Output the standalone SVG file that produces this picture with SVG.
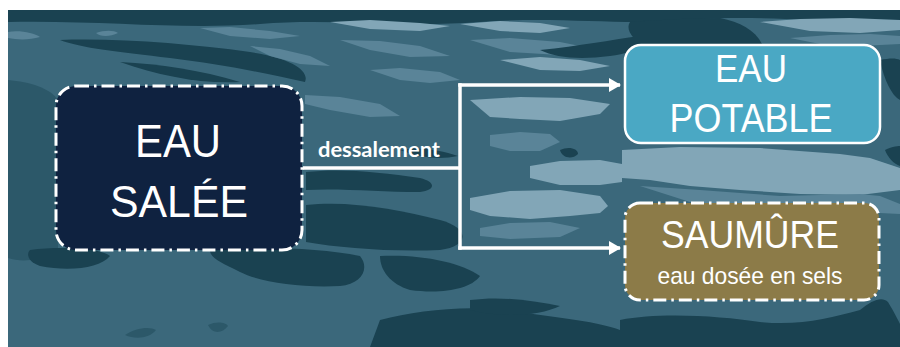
<svg xmlns="http://www.w3.org/2000/svg" width="900" height="347" viewBox="0 0 900 347">
  <defs>
    <marker id="arrow" markerUnits="userSpaceOnUse" markerWidth="12" markerHeight="14" refX="11" refY="7" orient="auto">
      <path d="M0,0 L12,7 L0,14 Z" fill="#ffffff"/>
    </marker>
    <style>
      .dk{fill:#1a4251}
      .md{fill:#2c5869}
      .lt{fill:#5a8498}
      .xl{fill:#82a6b7}
      .title{font-family:"Liberation Sans",Arial,sans-serif;fill:#ffffff;text-anchor:middle}
      .dashdot{stroke:#ffffff;stroke-width:3;stroke-dasharray:13 5 2.5 5}
      .conn{fill:none;stroke:#ffffff;stroke-width:3.5}
    </style>
  </defs>
  <rect x="0" y="0" width="900" height="347" fill="#ffffff"/>
  <g id="background">
    <rect x="8" y="10" width="892" height="337" fill="#3b687b"/>
    <path class="dk" d="M8,10 H900 V20 C820,24 760,14 690,20 C620,26 560,16 480,22 C400,28 330,18 260,24 C180,30 100,20 8,22 Z"/>
    <path class="dk" d="M60,40 C120,38 190,44 250,52 C290,58 310,70 305,82 C270,74 220,64 170,58 C120,52 80,48 60,40 Z"/>
    <path class="dk" d="M120,62 C160,64 200,70 240,82 C200,84 160,76 120,62 Z"/>
    <path class="md" d="M8,80 C30,82 50,88 58,100 L58,250 C40,262 20,262 8,258 Z"/>
    <path class="lt" d="M8,32 C20,30 34,33 40,37 C30,40 18,40 8,38 Z"/>
    <path class="lt" d="M96,33 C104,30 114,30 118,33 C110,37 100,37 96,33 Z"/>
    <path class="lt" d="M200,28 L230,27 L270,31 L300,36 L270,39 L230,36 Z"/>
    <path class="lt" d="M250,46 L280,49 L310,56 L330,66 L300,64 L270,56 Z"/>
    <path class="xl" d="M330,22 L370,20 L420,23 L450,26 L420,31 L370,29 Z"/>
    <path class="lt" d="M340,40 L380,41 L420,46 L450,56 L410,57 L370,50 Z"/>
    <path class="lt" d="M370,70 L400,68 L440,72 L460,80 L430,83 L400,80 Z"/>
    <path class="lt" d="M305,95 L340,97 L380,104 L400,116 L370,117 L330,110 L305,104 Z"/>
    <path class="dk" d="M306,172 C340,168 380,172 420,178 C436,182 436,190 420,192 C380,192 340,188 306,190 Z"/>
    <path class="dk" d="M306,205 C350,200 400,210 440,220 C470,228 470,246 440,250 C390,252 340,248 306,242 Z"/>
    <path class="dk" d="M400,150 C420,146 440,150 458,156 C440,160 420,158 400,150 Z"/>
    <path class="dk" d="M30,250 C60,246 100,248 110,256 C100,268 70,272 40,266 C28,262 26,254 30,250 Z"/>
    <path class="dk" d="M210,250 C260,246 320,248 360,256 C370,268 362,284 340,286 C300,288 260,282 240,272 C220,262 210,258 210,250 Z"/>
    <path class="dk" d="M380,256 C420,254 460,262 480,276 C470,290 440,294 410,290 C390,284 380,270 380,256 Z"/>
    <path class="md" d="M125,335 C135,328 150,326 156,330 C150,338 136,340 125,335 Z"/>
    <path class="md" d="M208,325 C216,321 226,322 228,326 C222,334 212,334 208,325 Z"/>
    <path class="dk" d="M380,320 C420,310 470,304 520,312 C560,318 600,322 620,330 L620,347 H370 Z"/>
    <path class="xl" d="M460,24 L500,21 L540,23 L570,28 L540,33 L500,31 Z"/>
    <path class="lt" d="M470,40 L510,38 L560,42 L600,50 L560,55 L510,52 Z"/>
    <path class="xl" d="M500,60 L540,57 L580,60 L610,66 L580,71 L540,70 Z"/>
    <path class="dk" d="M540,50 C580,46 610,40 640,36 C660,40 640,52 610,56 C580,60 556,58 540,50 Z"/>
    <path class="dk" d="M630,22 C660,20 690,18 720,18 C740,22 755,30 762,44 L640,44 C630,36 626,28 630,22 Z"/>
    <path class="xl" d="M760,22 L800,19 L850,18 L900,20 V30 L860,33 L810,31 Z"/>
    <path class="lt" d="M790,38 L830,35 L870,34 L900,36 V44 L860,46 L820,44 Z"/>
    <path class="dk" d="M880,60 C890,58 896,58 900,60 V100 C892,96 884,80 880,60 Z"/>
    <path class="xl" d="M470,100 L520,97 L570,98 L610,104 L600,114 L560,121 L520,119 L490,117 Z"/>
    <path class="lt" d="M490,135 L520,132 L550,134 L560,142 L540,151 L510,151 L490,146 Z"/>
    <path class="xl" d="M530,166 L560,161 L600,160 L622,164 V182 L600,185 L560,185 L530,178 Z"/>
    <path class="xl" d="M470,198 L510,191 L560,190 L600,196 L608,206 L600,213 L570,216 L530,219 L490,216 L470,210 Z"/>
    <path class="lt" d="M480,228 L510,223 L550,222 L580,228 L560,237 L510,239 L480,236 Z"/>
    <path class="dk" d="M560,150 C568,146 578,148 578,154 C572,160 562,158 560,150 Z"/>
    <path class="xl" d="M622,150 L680,147 L760,148 L840,154 L870,158 L900,168 V190 L860,195 L800,194 L740,190 L690,186 L650,180 L622,178 Z"/>
    <path class="lt" d="M640,186 L700,190 L780,196 L860,194 L880,196 L900,204 V214 L860,212 L800,210 L740,206 L690,202 Z"/>
    <path class="dk" d="M885,150 C892,146 900,146 900,146 V166 C894,164 888,158 885,150 Z"/>
    <path class="dk" d="M620,320 C660,312 720,316 760,322 C800,326 830,318 860,310 C872,300 882,296 888,302 C894,312 898,320 900,324 V347 H620 Z"/>
    <path class="dk" d="M470,300 C500,296 530,300 560,306 C540,316 500,318 470,310 Z"/>
  </g>
  <g id="connectors">
    <line class="conn" x1="303" y1="168" x2="460" y2="168"/>
    <line class="conn" x1="460" y1="83.25" x2="460" y2="249.75"/>
    <line class="conn" x1="458.25" y1="85" x2="620" y2="85" marker-end="url(#arrow)"/>
    <line class="conn" x1="458.25" y1="248" x2="620" y2="248" marker-end="url(#arrow)"/>
    <text x="379" y="157" font-family="Lato,'Liberation Sans',sans-serif" font-weight="700" font-size="21" fill="#ffffff" text-anchor="middle" textLength="122" lengthAdjust="spacingAndGlyphs">dessalement</text>
  </g>
  <g id="node-eau-salee">
    <rect class="dashdot" x="56" y="86" width="246" height="164" rx="20" fill="#0f2240"/>
    <text class="title" x="178" y="157" font-size="46" textLength="86" lengthAdjust="spacingAndGlyphs">EAU</text>
    <text class="title" x="179" y="217" font-size="45" textLength="138" lengthAdjust="spacingAndGlyphs">SALÉE</text>
  </g>
  <g id="node-eau-potable">
    <rect x="625" y="45" width="255" height="98" rx="16" fill="#4aa8c4" stroke="#ffffff" stroke-width="2.5"/>
    <text class="title" x="751" y="82" font-size="39" textLength="72" lengthAdjust="spacingAndGlyphs">EAU</text>
    <text class="title" x="751" y="132" font-size="40" textLength="163" lengthAdjust="spacingAndGlyphs">POTABLE</text>
  </g>
  <g id="node-saumure">
    <rect class="dashdot" x="625" y="203" width="254" height="97" rx="15" fill="#8c7b48" stroke-width="2.5"/>
    <text class="title" x="750" y="248" font-size="38" textLength="178" lengthAdjust="spacingAndGlyphs">SAUMÛRE</text>
    <text class="title" x="750" y="284" font-size="24" textLength="185" lengthAdjust="spacingAndGlyphs">eau dosée en sels</text>
  </g>
</svg>
